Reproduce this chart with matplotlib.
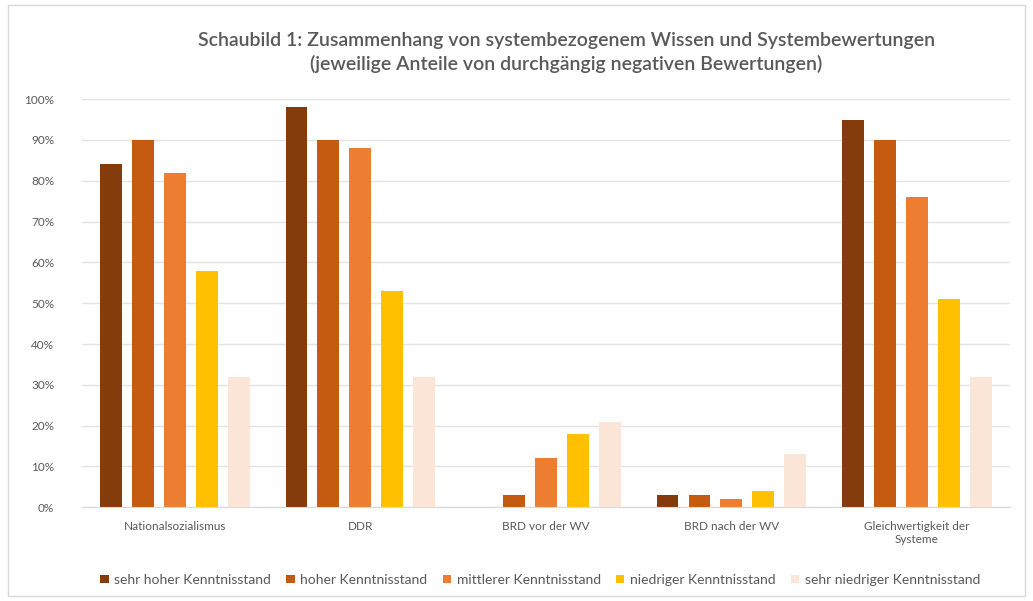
import numpy as np
import matplotlib.pyplot as plt
from matplotlib.patches import Rectangle
from matplotlib.ticker import PercentFormatter

plt.rcParams['font.family'] = ['Lato', 'DejaVu Sans']

categories = ['Nationalsozialismus', 'DDR', 'BRD vor der WV', 'BRD nach der WV',
              'Gleichwertigkeit der\nSysteme']
series_names = ['sehr hoher Kenntnisstand', 'hoher Kenntnisstand',
                'mittlerer Kenntnisstand', 'niedriger Kenntnisstand',
                'sehr niedriger Kenntnisstand']
sehr_hoch = [84, 98, 0, 3, 95]
hoch = [90, 90, 3, 3, 90]
mittel = [82, 88, 12, 2, 76]
niedrig = [58, 53, 18, 4, 51]
sehr_niedrig = [32, 32, 21, 13, 32]
values = [sehr_hoch, hoch, mittel, niedrig, sehr_niedrig]
colors = ['#843C0C', '#C55A11', '#ED7D31', '#FFC000', '#FBE5D6']

text_color = '#595959'

fig = plt.figure(figsize=(10.33, 6.01), dpi=100)
fig.patches.append(Rectangle((0.008, 0.008), 0.984, 0.984, transform=fig.transFigure,
                             fill=False, edgecolor='#D9D9D9', linewidth=1))
ax = fig.add_axes([0.0794, 0.156, 0.898, 0.679])

x = np.arange(len(categories))
width = 0.118
step = 0.172
for i, (vals, color, name) in enumerate(zip(values, colors, series_names)):
    ax.bar(x + (i - 2) * step, vals, width, color=color, label=name)

ax.set_ylim(0, 100)
ax.set_xlim(-0.5, len(categories) - 0.5)
ax.set_yticks(np.arange(0, 101, 10))
ax.yaxis.set_major_formatter(PercentFormatter(decimals=0))
ax.set_xticks(x)
ax.set_xticklabels(categories)
ax.grid(axis='y', color='#E3E3E3', linewidth=1)
ax.set_axisbelow(True)
for side in ['top', 'right', 'left']:
    ax.spines[side].set_visible(False)
ax.spines['bottom'].set_color('#D9D9D9')
ax.tick_params(axis='both', length=0, colors=text_color, labelsize=8.5)
ax.tick_params(axis='x', pad=10)
ax.tick_params(axis='y', pad=20)

fig.text(0.548, 0.932, 'Schaubild 1: Zusammenhang von systembezogenem Wissen und Systembewertungen',
         ha='center', va='center', fontsize=14, fontweight='semibold', color=text_color)
fig.text(0.548, 0.893, '(jeweilige Anteile von durchgängig negativen Bewertungen)',
         ha='center', va='center', fontsize=14, fontweight='semibold', color=text_color)

fig.legend(loc='center', bbox_to_anchor=(0.523, 0.035), ncol=5, frameon=False,
           fontsize=10, handlelength=0.6, handleheight=0.6, handletextpad=0.4,
           columnspacing=1.1, labelcolor=text_color)

plt.savefig('out.png', dpi=100)
